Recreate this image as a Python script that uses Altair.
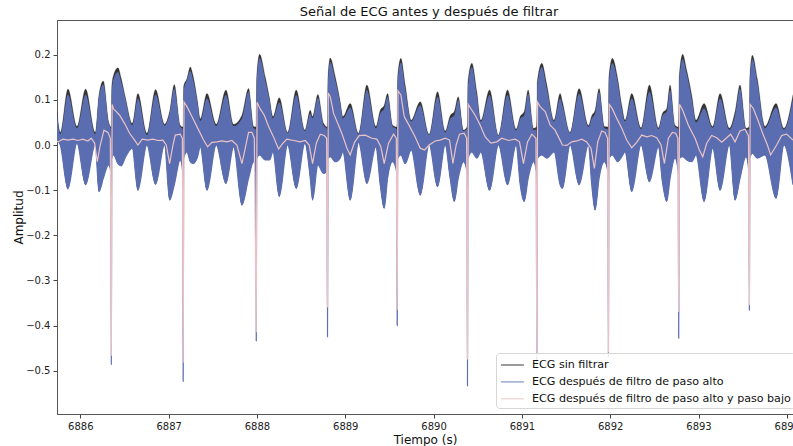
import altair as alt
import pandas as pd

# ---- envelope of the unfiltered and high-pass filtered ECG
t_env = [6885.736, 6885.773, 6885.860, 6885.962, 6886.060, 6886.169, 6886.211, 6886.260, 6886.320,
         6886.346, 6886.351, 6886.356,
         6886.377, 6886.426, 6886.464, 6886.513, 6886.588, 6886.652, 6886.754, 6886.852, 6886.954,
         6887.011, 6887.064, 6887.131,
         6887.160, 6887.165, 6887.170,
         6887.207, 6887.245, 6887.275, 6887.328, 6887.358, 6887.434, 6887.539, 6887.649, 6887.736,
         6887.830, 6887.905, 6887.962,
         6887.987, 6887.992, 6887.997,
         6888.030, 6888.094, 6888.143, 6888.181, 6888.253, 6888.347, 6888.445, 6888.543, 6888.604,
         6888.630, 6888.690, 6888.755,
         6888.794, 6888.799, 6888.804,
         6888.830, 6888.887, 6888.943, 6888.973, 6889.056, 6889.151, 6889.245, 6889.347, 6889.396,
         6889.441, 6889.479, 6889.536,
         6889.583, 6889.588, 6889.593,
         6889.630, 6889.679, 6889.747, 6889.849, 6889.950, 6890.045, 6890.132, 6890.188, 6890.234,
         6890.279, 6890.339,
         6890.379, 6890.384, 6890.389,
         6890.434, 6890.490, 6890.535, 6890.634, 6890.735, 6890.837, 6890.935, 6890.981, 6891.026,
         6891.071, 6891.132,
         6891.164, 6891.169, 6891.174,
         6891.226, 6891.283, 6891.365, 6891.433, 6891.459, 6891.546, 6891.648, 6891.753, 6891.791,
         6891.829, 6891.874, 6891.934,
         6891.975, 6891.980, 6891.985,
         6892.025, 6892.085, 6892.131, 6892.168, 6892.244, 6892.349, 6892.444, 6892.546, 6892.591,
         6892.640, 6892.678, 6892.734,
         6892.771, 6892.776, 6892.781,
         6892.821, 6892.866, 6892.923, 6892.972, 6893.063, 6893.161, 6893.244, 6893.349, 6893.414,
         6893.470, 6893.538,
         6893.571, 6893.576, 6893.581,
         6893.610, 6893.666, 6893.753, 6893.878, 6893.968, 6894.070]

raw_upper = [0.074, 0.028, 0.124, 0.041, 0.124, 0.028, 0.111, 0.142, 0.052,
             0.040, 0.050, 0.130,
             0.155, 0.171, 0.147, 0.103, 0.048, 0.114, 0.026, 0.123, 0.046,
             0.074, 0.134, 0.044,
             0.040, 0.050, 0.130,
             0.147, 0.173, 0.155, 0.096, 0.058, 0.114, 0.046, 0.122, 0.046,
             0.066, 0.125, 0.041,
             0.040, 0.060, 0.150,
             0.201, 0.151, 0.103, 0.063, 0.105, 0.028, 0.122, 0.033, 0.077,
             0.063, 0.112, 0.048,
             0.040, 0.060, 0.150,
             0.193, 0.151, 0.096, 0.063, 0.092, 0.026, 0.133, 0.041, 0.077,
             0.088, 0.114, 0.044,
             0.040, 0.060, 0.150,
             0.192, 0.133, 0.055, 0.096, 0.024, 0.118, 0.031, 0.065, 0.074,
             0.107, 0.033,
             0.040, 0.060, 0.140,
             0.181, 0.118, 0.055, 0.122, 0.022, 0.122, 0.035, 0.063, 0.074,
             0.122, 0.037,
             0.040, 0.060, 0.140,
             0.181, 0.133, 0.055, 0.114, 0.096, 0.028, 0.125, 0.043, 0.065,
             0.077, 0.125, 0.041,
             0.040, 0.060, 0.150,
             0.192, 0.147, 0.088, 0.055, 0.114, 0.038, 0.133, 0.038, 0.070,
             0.081, 0.133, 0.044,
             0.040, 0.060, 0.150,
             0.201, 0.166, 0.111, 0.055, 0.092, 0.041, 0.114, 0.037, 0.074,
             0.133, 0.037,
             0.040, 0.060, 0.150,
             0.199, 0.147, 0.041, 0.092, 0.037, 0.112]

hp_upper = [0.070, 0.024, 0.112, 0.037, 0.112, 0.024, 0.107, 0.134, 0.050,
            0.035, 0.000, 0.120,
            0.147, 0.162, 0.140, 0.100, 0.044, 0.103, 0.022, 0.112, 0.043,
            0.070, 0.125, 0.041,
            0.035, 0.000, 0.120,
            0.144, 0.164, 0.147, 0.092, 0.053, 0.103, 0.042, 0.111, 0.042,
            0.059, 0.118, 0.037,
            0.035, 0.000, 0.140,
            0.192, 0.144, 0.100, 0.059, 0.094, 0.026, 0.111, 0.031, 0.070,
            0.059, 0.105, 0.044,
            0.035, 0.000, 0.140,
            0.184, 0.144, 0.092, 0.059, 0.083, 0.024, 0.122, 0.037, 0.070,
            0.081, 0.107, 0.041,
            0.035, 0.000, 0.140,
            0.183, 0.125, 0.052, 0.088, 0.022, 0.107, 0.028, 0.058, 0.066,
            0.100, 0.031,
            0.035, 0.000, 0.130,
            0.173, 0.111, 0.052, 0.111, 0.021, 0.111, 0.032, 0.058, 0.066,
            0.114, 0.033,
            0.035, 0.000, 0.130,
            0.173, 0.125, 0.052, 0.103, 0.088, 0.026, 0.114, 0.040, 0.059,
            0.070, 0.118, 0.037,
            0.035, 0.000, 0.140,
            0.181, 0.140, 0.081, 0.052, 0.103, 0.035, 0.118, 0.035, 0.065,
            0.074, 0.122, 0.041,
            0.035, 0.000, 0.140,
            0.190, 0.159, 0.103, 0.050, 0.081, 0.038, 0.103, 0.034, 0.066,
            0.125, 0.034,
            0.035, 0.000, 0.140,
            0.190, 0.140, 0.037, 0.083, 0.034, 0.103]

hp_lower = [0.011, 0.000, -0.097, 0.004, -0.088, 0.001, -0.103, -0.074, -0.044,
            -0.060, -0.486, -0.030,
            -0.022, -0.041, -0.046, -0.026, -0.007, -0.100, 0.000, -0.087, 0.000,
            -0.122, -0.088, -0.033,
            -0.060, -0.524, -0.030,
            -0.015, -0.037, -0.041, -0.026, -0.004, -0.100, 0.000, -0.085, -0.004,
            -0.133, -0.074, -0.037,
            -0.060, -0.434, -0.030,
            -0.022, -0.033, -0.033, -0.015, -0.114, 0.000, -0.096, 0.004, -0.074,
            -0.122, -0.044, -0.063,
            -0.060, -0.425, -0.030,
            -0.026, -0.037, -0.029, -0.015, -0.122, 0.006, -0.085, -0.004, -0.088,
            -0.140, -0.074, -0.037,
            -0.060, -0.400, -0.030,
            -0.022, -0.041, -0.011, -0.111, 0.001, -0.092, 0.000, -0.074, -0.125,
            -0.074, -0.037,
            -0.060, -0.534, -0.030,
            -0.015, -0.029, -0.015, -0.100, 0.000, -0.088, 0.000, -0.088, -0.125,
            -0.074, -0.037,
            -0.060, -0.490, -0.030,
            -0.022, -0.029, -0.015, -0.088, -0.096, 0.000, -0.088, 0.000, -0.088,
            -0.144, -0.074, -0.037,
            -0.060, -0.470, -0.030,
            -0.022, -0.037, -0.026, -0.015, -0.103, 0.000, -0.081, -0.004, -0.081,
            -0.125, -0.074, -0.029,
            -0.060, -0.428, -0.030,
            -0.026, -0.033, -0.037, -0.022, -0.125, -0.007, -0.100, 0.000, -0.122,
            -0.074, -0.026,
            -0.060, -0.366, -0.030,
            -0.018, -0.029, -0.022, -0.118, 0.000, -0.088]

# ---- high-pass + low-pass filtered ECG
t_lp = [6885.736, 6885.766, 6885.803, 6885.860, 6885.917, 6885.973, 6886.030, 6886.086, 6886.124,
        6886.162, 6886.192, 6886.226, 6886.268, 6886.313, 6886.340, 6886.351, 6886.360, 6886.377,
        6886.407, 6886.445, 6886.501, 6886.558, 6886.615, 6886.652, 6886.701, 6886.766, 6886.822,
        6886.879, 6886.935, 6886.973, 6887.011, 6887.049, 6887.075, 6887.131, 6887.155, 6887.165,
        6887.174, 6887.207, 6887.264, 6887.340, 6887.396, 6887.441, 6887.490, 6887.547, 6887.604,
        6887.660, 6887.717, 6887.773, 6887.830, 6887.868, 6887.905, 6887.943, 6887.970, 6887.992,
        6888.001, 6888.037, 6888.083, 6888.132, 6888.188, 6888.245, 6888.294, 6888.339, 6888.415,
        6888.490, 6888.547, 6888.592, 6888.630, 6888.672, 6888.717, 6888.762, 6888.789, 6888.799,
        6888.808, 6888.830, 6888.868, 6888.924, 6888.970, 6889.019, 6889.056, 6889.105, 6889.158,
        6889.226, 6889.302, 6889.358, 6889.403, 6889.441, 6889.490, 6889.547, 6889.578, 6889.588,
        6889.597, 6889.630, 6889.668, 6889.724, 6889.792, 6889.849, 6889.898, 6889.950, 6890.019,
        6890.075, 6890.132, 6890.181, 6890.219, 6890.256, 6890.294, 6890.347, 6890.374, 6890.384,
        6890.393, 6890.422, 6890.471, 6890.528, 6890.585, 6890.649, 6890.717, 6890.773, 6890.849,
        6890.924, 6890.973, 6891.018, 6891.064, 6891.113, 6891.159, 6891.169, 6891.178, 6891.207,
        6891.264, 6891.320, 6891.376, 6891.414, 6891.459, 6891.508, 6891.565, 6891.621, 6891.678,
        6891.734, 6891.783, 6891.821, 6891.859, 6891.904, 6891.942, 6891.970, 6891.980, 6891.989,
        6892.025, 6892.074, 6892.131, 6892.187, 6892.244, 6892.300, 6892.357, 6892.414, 6892.470,
        6892.527, 6892.576, 6892.614, 6892.659, 6892.704, 6892.742, 6892.766, 6892.776, 6892.785,
        6892.821, 6892.885, 6892.961, 6893.010, 6893.048, 6893.093, 6893.149, 6893.206, 6893.263,
        6893.319, 6893.364, 6893.414, 6893.470, 6893.527, 6893.566, 6893.576, 6893.585, 6893.621,
        6893.678, 6893.734, 6893.780, 6893.817, 6893.885, 6893.942, 6893.998, 6894.070]

lp = [0.007, 0.009, 0.013, 0.011, 0.013, 0.010, 0.013, 0.009, 0.015,
      0.004, -0.037, 0.000, 0.033, 0.028, 0.015, -0.467, 0.090, 0.080,
      0.074, 0.066, 0.048, 0.026, 0.011, 0.000, 0.013, 0.011, 0.013,
      0.010, 0.011, 0.000, -0.041, 0.000, 0.022, 0.024, 0.015, -0.482,
      0.095, 0.085, 0.063, 0.033, 0.011, -0.004, 0.006, 0.007, 0.009,
      0.007, 0.010, 0.000, -0.041, -0.007, 0.028, 0.028, 0.015, -0.415,
      0.095, 0.080, 0.066, 0.041, 0.018, -0.009, 0.004, 0.013, 0.010,
      0.007, 0.010, 0.000, -0.041, 0.004, 0.024, 0.021, 0.015, -0.360,
      0.115, 0.107, 0.070, 0.044, 0.021, -0.007, -0.022, 0.006, 0.021,
      0.022, 0.015, 0.013, -0.004, -0.041, 0.004, 0.024, 0.015, -0.365,
      0.120, 0.111, 0.063, 0.043, 0.018, -0.007, -0.011, 0.000, 0.009,
      0.011, 0.015, 0.011, -0.041, 0.000, 0.024, 0.026, 0.015, -0.475,
      0.090, 0.081, 0.066, 0.044, 0.018, 0.004, 0.007, 0.015, 0.010,
      0.013, 0.007, -0.041, 0.007, 0.024, 0.015, -0.470, 0.095, 0.085,
      0.074, 0.044, 0.033, 0.018, 0.000, -0.001, 0.007, 0.009, 0.013,
      0.007, -0.007, -0.052, 0.007, 0.031, 0.028, 0.015, -0.460, 0.090,
      0.080, 0.059, 0.037, 0.011, -0.006, 0.006, 0.022, 0.018, 0.021,
      0.016, 0.000, -0.041, 0.015, 0.028, 0.026, 0.015, -0.370, 0.090,
      0.077, 0.044, 0.015, -0.011, -0.026, 0.004, 0.021, 0.016, 0.006,
      0.016, 0.024, 0.007, 0.031, 0.035, 0.020, -0.355, 0.090, 0.081,
      0.052, 0.022, 0.000, -0.022, 0.000, 0.021, 0.024, 0.011]

series_names = ["ECG sin filtrar", "ECG después de filtro de paso alto",
                "ECG después de filtro de paso alto y paso bajo"]
series_colors = ["#222222", "#5d70b2", "#ebc3c7"]

x_ticks = [6886, 6887, 6888, 6889, 6890, 6891, 6892, 6893, 6894]
y_ticks = [-0.5, -0.4, -0.3, -0.2, -0.1, 0.0, 0.1, 0.2]

env = pd.DataFrame({"t": t_env, "raw": raw_upper, "hp": hp_upper, "lo": hp_lower})
low = pd.DataFrame({"t": t_lp, "lp": lp})

FONT = "DejaVu Sans"
xs = alt.Scale(domain=[6885.736, 6894.07], nice=False, zero=False)
ys = alt.Scale(domain=[-0.596, 0.277], nice=False, zero=False)
cs = alt.Scale(domain=series_names, range=series_colors)

xenc = alt.X("t:Q", scale=xs, title="Tiempo (s)",
             axis=alt.Axis(values=x_ticks, format="d", grid=False))
legend = alt.Legend(title=None, orient="none", legendX=439, legendY=333,
                    fillColor="rgba(255,255,255,0.85)", strokeColor="#d6d6d6",
                    cornerRadius=3, padding=4, labelFontSize=11.1, labelFont=FONT,
                    labelColor="#111", labelLimit=500, symbolType="M-1,0H2.25",
                    symbolSize=200, symbolStrokeWidth=1.5, rowPadding=2.9,
                    labelOffset=16)

base = alt.Chart(env)

raw_area = base.mark_area(color="#1e1e1e", opacity=0.9, clip=True,
                          interpolate="monotone").encode(
    x=xenc, y=alt.Y("raw:Q", scale=ys, title="Amplitud",
                    axis=alt.Axis(values=y_ticks, format=".1f", grid=False)),
    y2="lo:Q")
raw_line = base.mark_line(strokeWidth=0.4, opacity=0.6, clip=True,
                          interpolate="monotone").transform_calculate(
    serie="'ECG sin filtrar'").encode(
    x=xenc, y=alt.Y("raw:Q", scale=ys),
    color=alt.Color("serie:N", scale=cs, legend=legend))
hp_area = base.mark_area(color="#5a6db0", clip=True, interpolate="monotone").encode(
    x=xenc, y=alt.Y("hp:Q", scale=ys), y2="lo:Q")
hp_line = base.mark_line(strokeWidth=1.2, clip=True,
                         interpolate="monotone").transform_calculate(
    serie="'ECG después de filtro de paso alto'").encode(
    x=xenc, y=alt.Y("lo:Q", scale=ys),
    color=alt.Color("serie:N", scale=cs, legend=legend))
lp_line = alt.Chart(low).mark_line(strokeWidth=1.2, clip=True).transform_calculate(
    serie="'ECG después de filtro de paso alto y paso bajo'").encode(
    x=xenc, y=alt.Y("lp:Q", scale=ys),
    color=alt.Color("serie:N", scale=cs, legend=legend))

chart = alt.layer(raw_area, raw_line, hp_area, hp_line, lp_line).properties(
    width=736, height=394,
    autosize=alt.AutoSizeParams(type="none"),
    padding={"left": 57, "top": 20, "right": 0, "bottom": 32},
    title=alt.TitleParams("Señal de ECG antes y después de filtrar", fontSize=13,
                          fontWeight="normal", font=FONT, color="#111", offset=1, dx=4),
).configure_view(stroke="#555", strokeWidth=1).configure_axis(
    labelFont=FONT, titleFont=FONT, labelFontSize=10, titleFontSize=12,
    titleFontWeight="normal", labelColor="#222", titleColor="#111",
    tickColor="#444", tickSize=4, domainColor="#555", labelPadding=3
).configure_axisX(titlePadding=3).configure_axisY(titlePadding=0)

chart.save("out.html", embed_options={"renderer": "svg", "actions": False})
